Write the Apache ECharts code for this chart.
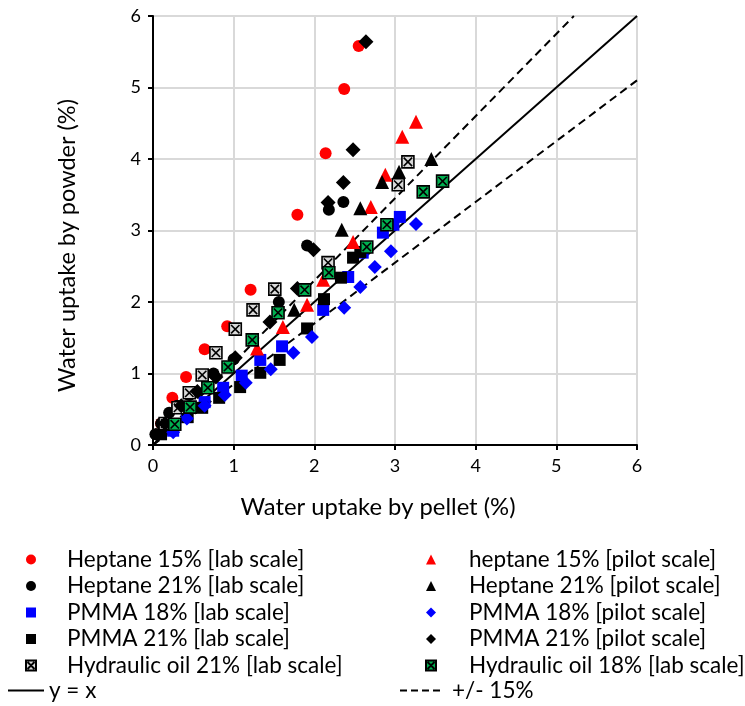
<!DOCTYPE html>
<html><head><meta charset="utf-8">
<script src="https://cdn.jsdelivr.net/npm/echarts@6/dist/echarts.min.js"></script>
<style>html,body{margin:0;padding:0;background:#fff}#c{width:745px;height:706px}</style>
</head><body><div id="c"></div>
<script>
// ---- data (x = water uptake by pellet %, y = water uptake by powder %) ----
const heptane15Lab = [[0.10,0.30],[0.24,0.66],[0.41,0.95],[0.64,1.34],[0.92,1.66],[1.21,2.17],[1.79,3.22],[2.14,4.08],[2.37,4.98],[2.55,5.58]];
const heptane21Lab = [[0.03,0.15],[0.10,0.30],[0.20,0.45],[0.30,0.55],[0.45,0.70],[0.75,1.00],[1.00,1.20],[1.56,2.00],[1.91,2.79],[2.18,3.29],[2.36,3.40]];
const pmma18Lab = [[0.25,0.20],[0.42,0.39],[0.64,0.60],[0.87,0.80],[1.10,0.97],[1.33,1.19],[1.60,1.38],[2.11,1.89],[2.42,2.35],[2.60,2.69],[2.85,2.97],[2.98,3.08],[3.06,3.19]];
const pmma21Lab = [[0.10,0.15],[0.20,0.25],[0.43,0.39],[0.61,0.52],[0.82,0.66],[1.08,0.81],[1.33,1.01],[1.57,1.19],[1.91,1.63],[2.12,2.04],[2.33,2.34],[2.48,2.62],[2.57,2.70]];
const hydraulic21Lab = [[0.15,0.30],[0.31,0.52],[0.45,0.73],[0.61,0.98],[0.78,1.29],[1.02,1.62],[1.24,1.89],[1.51,2.18],[2.17,2.55],[3.04,3.64],[3.16,3.96]];
const heptane15Pilot = [[1.29,1.35],[1.61,1.65],[1.91,1.96],[2.11,2.31],[2.48,2.84],[2.70,3.33],[2.88,3.78],[3.09,4.31],[3.26,4.52]];
const heptane21Pilot = [[1.75,1.89],[2.34,3.01],[2.57,3.31],[2.84,3.68],[3.05,3.82],[3.45,4.00]];
const pmma18Pilot = [[0.25,0.18],[0.42,0.37],[0.64,0.55],[0.89,0.70],[1.15,0.87],[1.46,1.06],[1.74,1.29],[1.97,1.51],[2.37,1.92],[2.57,2.21],[2.75,2.49],[2.95,2.71],[3.26,3.09]];
const pmma21Pilot = [[0.15,0.30],[0.35,0.55],[0.55,0.75],[0.78,0.95],[1.02,1.22],[1.45,1.72],[1.79,2.19],[1.99,2.73],[2.17,3.39],[2.36,3.67],[2.48,4.13],[2.64,5.64]];
const hydraulic18Lab = [[0.27,0.29],[0.46,0.53],[0.68,0.80],[0.93,1.09],[1.23,1.47],[1.55,1.85],[1.88,2.17],[2.18,2.41],[2.65,2.77],[2.90,3.08],[3.35,3.54],[3.59,3.69]];
const axisMax = 6;
const tolerance = 0.15;
const axisTicks = [0,1,2,3,4,5,6];

const lineYX = [[0,0],[axisMax,axisMax]];
const lineUpper = [[0,0],[axisMax/(1+tolerance),axisMax]];
const lineLower = [[0,0],[axisMax,axisMax*(1-tolerance)]];

const FONT = 'Lato';
const crossBox = 'path://M0,0L10,0L10,10L0,10Z M1.5,1.5L8.5,8.5 M8.5,1.5L1.5,8.5';
const solidIcon = 'path://M0,0H36V2H0Z';
const dashIcon = 'path://M0,0H7V2H0Z M11,0H18V2H11Z M22,0H29V2H22Z M33,0H40V2H33Z';

function sc(name, data, symbol, size, color, extra){
  return Object.assign({
    type:'scatter', name, data, symbol, symbolSize:size,
    itemStyle:{color, opacity:1}, z:3, emphasis:{disabled:true}
  }, extra||{});
}
const xbStyle = (fill)=>({itemStyle:{color:fill, borderColor:'#000', borderWidth:1.6, opacity:1}});

const chart = echarts.init(document.getElementById('c'), null, {renderer:'canvas'});
const legendText = (pad)=>({fontFamily:FONT, fontSize:22.5, color:'#000', padding:[0,0,0,pad]});
chart.setOption({
  animation:false,
  backgroundColor:'#fff',
  grid:{left:153, right:108, top:16, bottom:261, containLabel:false},
  xAxis:{type:'value', min:0, max:axisMax, interval:1,
    name:'Water uptake by pellet (%)', nameLocation:'middle', nameGap:50,
    nameTextStyle:{fontFamily:FONT, fontSize:23.8, color:'#000', padding:[0,34,0,0]},
    axisLine:{show:true, onZero:false, lineStyle:{color:'#000', width:2}},
    axisTick:{show:true, length:5, inside:false, lineStyle:{color:'#000', width:2}},
    axisLabel:{fontFamily:FONT, fontSize:18, color:'#000', margin:12, formatter:(v)=>axisTicks.includes(v)?String(v):''},
    splitLine:{show:true, lineStyle:{color:'#d9d9d9', width:2}}
  },
  yAxis:{type:'value', min:0, max:axisMax, interval:1,
    name:'Water uptake by powder (%)', nameLocation:'middle', nameGap:74,
    nameTextStyle:{fontFamily:FONT, fontSize:23.5, color:'#000', padding:[0,30,0,0]},
    axisLine:{show:true, onZero:false, lineStyle:{color:'#000', width:2}},
    axisTick:{show:true, length:5, inside:false, lineStyle:{color:'#000', width:2}},
    axisLabel:{fontFamily:FONT, fontSize:18, color:'#000', margin:12, formatter:(v)=>axisTicks.includes(v)?String(v):''},
    splitLine:{show:true, lineStyle:{color:'#d9d9d9', width:2}}
  },
  legend:[
    {orient:'vertical', left:20, top:543, itemWidth:10, itemHeight:10, itemGap:3.5, textStyle:legendText(26), selectedMode:false,
     data:['Heptane 15% [lab scale]','Heptane 21% [lab scale]','PMMA 18% [lab scale]','PMMA 21% [lab scale]','Hydraulic oil 21% [lab scale]']},
    {orient:'vertical', left:420, top:543, itemWidth:10, itemHeight:10, itemGap:3.5, textStyle:legendText(28), selectedMode:false,
     data:['heptane 15% [pilot scale]','Heptane 21% [pilot scale]','PMMA 18% [pilot scale]','PMMA 21% [pilot scale]','Hydraulic oil 18% [lab scale]']},
    {orient:'vertical', left:3, top:674, itemWidth:36, itemHeight:2, textStyle:legendText(0), selectedMode:false,
     data:[{name:'y = x', icon:solidIcon, itemStyle:{color:'#000'}}]},
    {orient:'vertical', left:395, top:674, itemWidth:40, itemHeight:2, textStyle:legendText(7), selectedMode:false,
     data:[{name:'+/- 15%', icon:dashIcon, itemStyle:{color:'#000'}}]}
  ],
  series:[
    {type:'line', name:'y = x', data:lineYX, symbol:'none', z:2, lineStyle:{color:'#000', width:2}, itemStyle:{color:'#000'}},
    {type:'line', name:'+/- 15%', data:lineUpper, symbol:'none', z:2, lineStyle:{color:'#000', width:2, type:[8,5]}, itemStyle:{color:'#000'}},
    {type:'line', name:'+/- 15%', data:lineLower, symbol:'none', z:2, lineStyle:{color:'#000', width:2, type:[8,5]}, itemStyle:{color:'#000'}},
    sc('Heptane 15% [lab scale]', heptane15Lab, 'circle', 12, '#ff0000'),
    sc('Heptane 21% [lab scale]', heptane21Lab, 'circle', 12, '#000000'),
    sc('PMMA 18% [lab scale]', pmma18Lab, 'rect', 12, '#0000ff'),
    sc('PMMA 21% [lab scale]', pmma21Lab, 'rect', 12, '#000000'),
    sc('Hydraulic oil 21% [lab scale]', hydraulic21Lab, crossBox, 12, '#d9d9d9', xbStyle('#d9d9d9')),
    sc('heptane 15% [pilot scale]', heptane15Pilot, 'triangle', 14, '#ff0000'),
    sc('Heptane 21% [pilot scale]', heptane21Pilot, 'triangle', 14, '#000000'),
    sc('PMMA 18% [pilot scale]', pmma18Pilot, 'diamond', 14, '#0000ff'),
    sc('PMMA 21% [pilot scale]', pmma21Pilot, 'diamond', 15, '#000000'),
    sc('Hydraulic oil 18% [lab scale]', hydraulic18Lab, crossBox, 12, '#00b050', xbStyle('#00b050'))
  ]
});
</script></body></html>
